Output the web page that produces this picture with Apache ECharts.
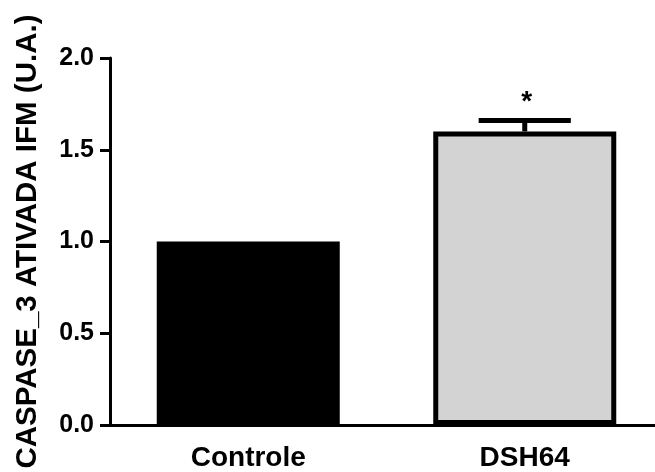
<!DOCTYPE html>
<html>
<head>
<meta charset="utf-8">
<script src="https://cdn.jsdelivr.net/npm/echarts@6/dist/echarts.min.js"></script>
<style>html,body{margin:0;padding:0;background:#fff}#c{width:655px;height:472px}</style>
</head>
<body>
<div id="c"></div>
<script>
const categories = ['Controle', 'DSH64'];
const means = [1.0, 1.6];
const errors = [0, 0.06];
const significance = ['', '*'];
const yTicks = [0, 0.5, 1.0, 1.5, 2.0];
const barColors = ['#000000', '#d3d3d3'];

const FONT = '"Liberation Sans", Arial, Helvetica, sans-serif';
const chart = echarts.init(document.getElementById('c'), null, {renderer: 'canvas'});

chart.setOption({
  animation: false,
  grid: {left: 110, width: 553, top: 58, bottom: 47, containLabel: false, outerBoundsMode: 'none'},
  xAxis: {
    type: 'category',
    data: categories,
    axisLine: {lineStyle: {color: '#000', width: 3}},
    axisTick: {alignWithLabel: true, length: 10, lineStyle: {color: '#000', width: 3}},
    axisLabel: {color: '#000', fontFamily: FONT, fontWeight: 'bold', fontSize: 28, margin: 19}
  },
  yAxis: {
    type: 'value',
    min: yTicks[0],
    max: yTicks[yTicks.length - 1],
    interval: 0.5,
    name: 'CASPASE_3 ATIVADA IFM (U.A.)',
    nameLocation: 'middle',
    nameGap: 67,
    nameTextStyle: {color: '#000', fontFamily: FONT, fontWeight: 'bold', fontSize: 29.5},
    splitLine: {show: false},
    axisLine: {show: true, lineStyle: {color: '#000', width: 3}},
    axisTick: {show: true, length: 10, lineStyle: {color: '#000', width: 3}},
    axisLabel: {color: '#000', fontFamily: FONT, fontWeight: 'bold', fontSize: 25, margin: 16,
      formatter: v => v.toFixed(1)}
  },
  series: [
    {
      type: 'bar',
      barWidth: 183,
      data: means.map((v, i) => ({
        value: v,
        itemStyle: {color: barColors[i], borderColor: '#000', borderWidth: 5}
      }))
    },
    {
      type: 'custom',
      z: 5,
      data: means.map((v, i) => [i, v, errors[i]]),
      renderItem: function (params, api) {
        const i = api.value(0);
        const m = api.value(1);
        const e = api.value(2);
        const sig = significance[i];
        const base = api.coord([i, m]);
        const top = api.coord([i, m + e]);
        const band = api.size([1, 0])[0];
        const half = band / 6;
        const children = [];
        if (e > 0) {
          children.push({type: 'line', shape: {x1: base[0], y1: base[1], x2: top[0], y2: top[1]},
            style: {stroke: '#000', lineWidth: 5}});
          children.push({type: 'line', shape: {x1: top[0] - half, y1: top[1], x2: top[0] + half, y2: top[1]},
            style: {stroke: '#000', lineWidth: 5}});
        }
        if (sig) {
          children.push({type: 'text', x: top[0] + 2, y: top[1] - 4,
            style: {text: sig, fill: '#000', fontFamily: FONT, fontWeight: 'bold', fontSize: 28, align: 'center', verticalAlign: 'bottom'}});
        }
        return {type: 'group', children: children};
      }
    }
  ]
});
</script>
</body>
</html>
